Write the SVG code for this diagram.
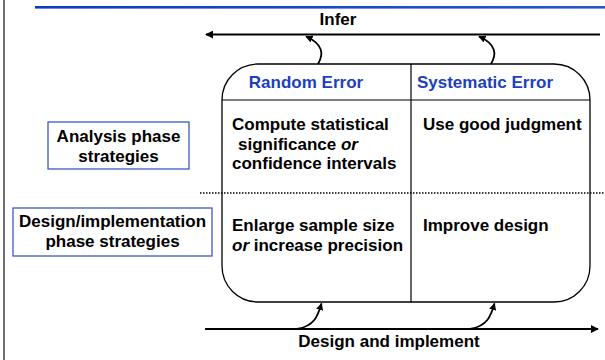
<svg xmlns="http://www.w3.org/2000/svg" width="605" height="360" viewBox="0 0 605 360">
<style>
text{font-family:"Liberation Sans",Arial,sans-serif;font-weight:bold;font-size:17px;fill:#000}
.hdr{fill:#1c3fc0}
.it{font-style:italic}
.lbl{fill:#fff;stroke:#2a4cc0;stroke-width:1.2}
.conn{fill:none;stroke:#000;stroke-width:2}
.curve{fill:none;stroke:#000;stroke-width:1.8}
</style>
<defs>
<marker id="ah" viewBox="0 0 10 10" refX="9" refY="5" markerWidth="4" markerHeight="4" orient="auto" markerUnits="strokeWidth">
<path d="M0,0 L10,5 L0,10 z" fill="#000"/>
</marker>
<linearGradient id="bl" x1="0" x2="1" y1="0" y2="0">
<stop offset="0" stop-color="#0a3cc8"/>
<stop offset="1" stop-color="#2a55c8"/>
</linearGradient>
</defs>
<rect width="605" height="360" fill="#fff"/>
<line x1="4" y1="0" x2="4" y2="360" stroke="#4a4a4a" stroke-width="1.6"/>
<rect x="35" y="6" width="570" height="2.6" fill="url(#bl)"/>

<g id="matrix">
<rect x="222" y="64" width="368" height="238" rx="36" ry="36" fill="none" stroke="#000" stroke-width="1.3"/>
<line x1="222" y1="100" x2="590" y2="100" stroke="#000" stroke-width="1.2"/>
<line x1="411" y1="64" x2="411" y2="302" stroke="#000" stroke-width="1.2"/>
<text class="hdr" x="306" y="88" text-anchor="middle">Random Error</text>
<text class="hdr" x="485" y="88" text-anchor="middle">Systematic Error</text>
<text x="232" y="130">Compute statistical</text>
<text x="238" y="150">significance <tspan class="it">or</tspan></text>
<text x="232" y="169">confidence intervals</text>
<text x="423" y="130">Use good judgment</text>
<text x="232" y="231">Enlarge sample size</text>
<text x="232" y="251"><tspan class="it">or</tspan> increase precision</text>
<text x="423" y="231">Improve design</text>
</g>

<g id="analysis">
<rect class="lbl" x="48" y="122" width="141" height="47"/>
<text x="118.5" y="142" text-anchor="middle">Analysis phase</text>
<text x="118.5" y="162" text-anchor="middle">strategies</text>
</g>

<g id="design">
<rect class="lbl" x="13" y="208" width="199" height="48"/>
<text x="112.5" y="227" text-anchor="middle">Design/implementation</text>
<text x="112.5" y="247" text-anchor="middle">phase strategies</text>
</g>

<g id="infer">
<text x="338" y="25" text-anchor="middle">Infer</text>
</g>
<g id="design-implement">
<text x="389" y="347" text-anchor="middle">Design and implement</text>
</g>

<g id="connectors">
<line class="conn" x1="600" y1="34.5" x2="206" y2="34.5" marker-end="url(#ah)"/>
<line class="conn" x1="205" y1="329" x2="598" y2="329" marker-end="url(#ah)"/>
<line x1="200" y1="193" x2="605" y2="193" stroke="#000" stroke-width="1.5" stroke-dasharray="1.5 1.5"/>
<path class="curve" d="M318,64 C324,54 323,44 306,36.5" marker-end="url(#ah)"/>
<path class="curve" d="M491,64 C497,54 496,44 479,36.5" marker-end="url(#ah)"/>
<path class="curve" d="M297,329 C315,326 318,315 321.5,303.5" marker-end="url(#ah)"/>
<path class="curve" d="M470,329 C488,326 491,315 494.5,303.5" marker-end="url(#ah)"/>
</g>
</svg>
